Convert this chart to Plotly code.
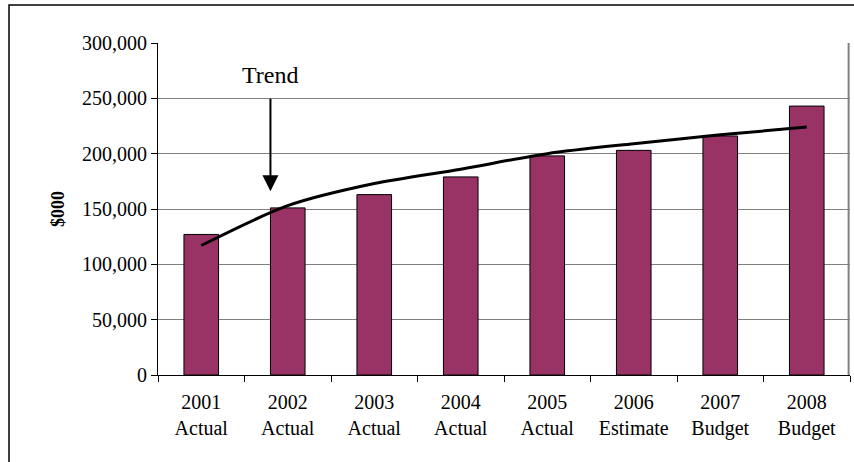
import plotly.graph_objects as go

years = ["2001", "2002", "2003", "2004", "2005", "2006", "2007", "2008"]
kinds = ["Actual", "Actual", "Actual", "Actual", "Actual", "Estimate", "Budget", "Budget"]
values = [127000, 151000, 163000, 179000, 198000, 203000, 216000, 243000]
trend = [117000, 153000, 173000, 186000, 200000, 209000, 217000, 224000]
tick_labels = [f"{y}<br>{k}" for y, k in zip(years, kinds)]

FONT = "Liberation Serif, Times New Roman, serif"

fig = go.Figure()
fig.add_trace(go.Bar(
    x=years, y=values, width=0.4,
    marker=dict(color="#993366", line=dict(color="black", width=1)),
    showlegend=False, hoverinfo="skip",
))
fig.add_trace(go.Scatter(
    x=years, y=trend, mode="lines",
    line=dict(color="black", width=3, shape="spline", smoothing=0.8),
    showlegend=False, hoverinfo="skip",
))

fig.update_layout(
    width=854, height=462,
    margin=dict(l=158, r=4, t=43, b=87),
    paper_bgcolor="white", plot_bgcolor="white",
    font=dict(family=FONT, color="black", size=20),
    bargap=0.6,
)
fig.update_xaxes(
    type="category", tickvals=years, ticktext=tick_labels,
    tickson="boundaries", ticks="outside", ticklen=6, tickcolor="black",
    showline=True, linecolor="black", linewidth=1,
    showgrid=False, tickfont=dict(size=20), ticklabelstandoff=9,
    range=[-0.5, 7.5],
)
fig.update_yaxes(
    range=[0, 300000], dtick=50000, tickformat=",",
    ticks="outside", ticklen=6, tickcolor="black",
    showline=True, linecolor="black", linewidth=1,
    showgrid=True, gridcolor="#808080", gridwidth=1,
    tickfont=dict(size=20), zeroline=False,
)

# plot area right border
fig.add_shape(type="line", xref="paper", yref="paper", x0=0.998, x1=0.998, y0=0, y1=1,
              line=dict(color="#808080", width=2))
# outer chart border (cropped at right and bottom)
fig.add_shape(type="rect", xref="paper", yref="paper",
              x0=-0.2153, x1=1.05, y0=-0.35, y1=1.1145,
              line=dict(color="black", width=1.5), layer="below")

# Y axis title
fig.add_annotation(text="<b>$000</b>", xref="paper", yref="paper",
                   x=-0.162, y=0.5, textangle=-90, showarrow=False,
                   font=dict(size=18, family=FONT))

# Trend annotation
fig.add_annotation(x=0.8, y=166000, ax=0.8, ay=251000, xref="x", yref="y",
                   axref="x", ayref="y", text="", showarrow=True,
                   arrowhead=2, arrowwidth=2, arrowsize=1.6, arrowcolor="black")
fig.add_annotation(x=0.8, y=271000, xref="x", yref="y", text="Trend",
                   showarrow=False, font=dict(size=24, family=FONT))

fig.write_html("out.html", config={"displayModeBar": False},
               post_script="document.body.style.margin='0';")
